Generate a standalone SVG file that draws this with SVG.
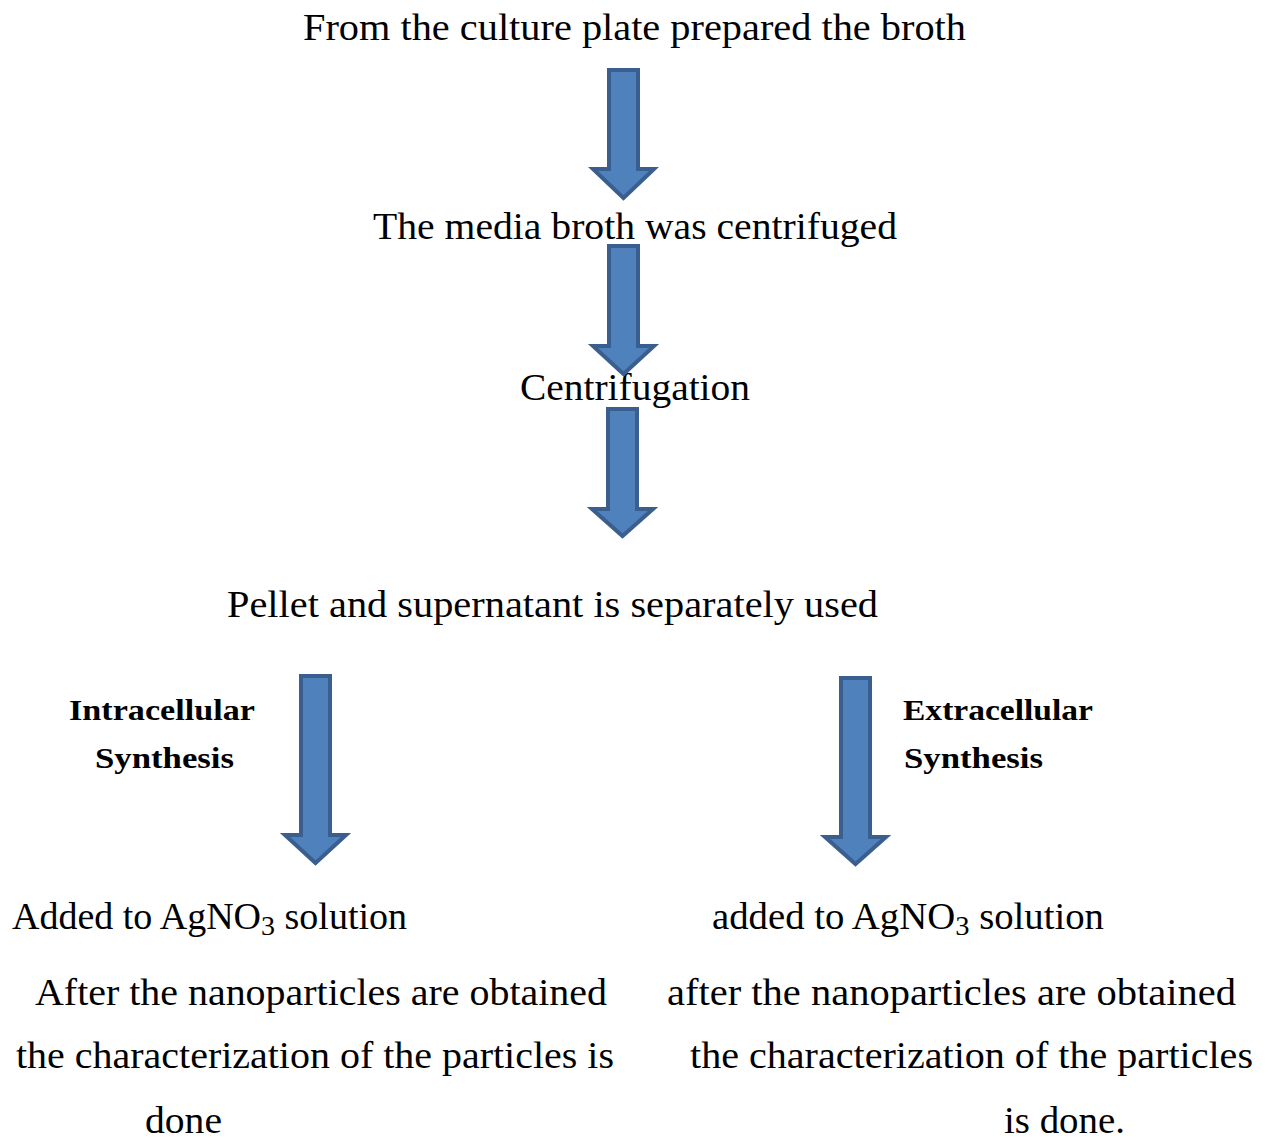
<svg xmlns="http://www.w3.org/2000/svg" width="1265" height="1140" viewBox="0 0 1265 1140">
<style>
.t{font-family:"Liberation Serif","DejaVu Serif",serif;font-size:38px;fill:#000}
.b{font-family:"Liberation Serif","DejaVu Serif",serif;font-size:30px;font-weight:bold;fill:#000}
.arr{fill:#4F81BD;stroke:#3A5F8F;stroke-width:4;stroke-linejoin:miter}
</style>
<rect width="1265" height="1140" fill="#fff"/>
<g id="n1"><text class="t" x="303" y="40" textLength="663" lengthAdjust="spacingAndGlyphs">From the culture plate prepared the broth</text></g>
<g id="n2"><text class="t" x="373" y="239" textLength="524" lengthAdjust="spacingAndGlyphs">The media broth was centrifuged</text></g>
<g id="n3"><text class="t" x="520" y="400" textLength="230" lengthAdjust="spacingAndGlyphs">Centrifugation</text></g>
<g id="n4"><text class="t" x="227" y="617" textLength="651" lengthAdjust="spacingAndGlyphs">Pellet and supernatant is separately used</text></g>
<g id="n5"><text class="b" x="69" y="720" textLength="186" lengthAdjust="spacingAndGlyphs">Intracellular</text><text class="b" x="95" y="768" textLength="139" lengthAdjust="spacingAndGlyphs">Synthesis</text></g>
<g id="n6"><text class="b" x="903" y="720" textLength="190" lengthAdjust="spacingAndGlyphs">Extracellular</text><text class="b" x="904" y="768" textLength="139" lengthAdjust="spacingAndGlyphs">Synthesis</text></g>
<g id="n7">
<text class="t" x="12" y="929" textLength="395" lengthAdjust="spacingAndGlyphs">Added to AgNO<tspan font-size="28" dy="6">3</tspan><tspan dy="-6"> solution</tspan></text>
<text class="t" x="35" y="1005" textLength="572" lengthAdjust="spacingAndGlyphs">After the nanoparticles are obtained</text>
<text class="t" x="16" y="1068" textLength="598" lengthAdjust="spacingAndGlyphs">the characterization of the particles is</text>
<text class="t" x="145" y="1133" textLength="77" lengthAdjust="spacingAndGlyphs">done</text>
</g>
<g id="n8">
<text class="t" x="712" y="929" textLength="392" lengthAdjust="spacingAndGlyphs">added to AgNO<tspan font-size="28" dy="6">3</tspan><tspan dy="-6"> solution</tspan></text>
<text class="t" x="667" y="1005" textLength="569" lengthAdjust="spacingAndGlyphs">after the nanoparticles are obtained</text>
<text class="t" x="690" y="1068" textLength="563" lengthAdjust="spacingAndGlyphs">the characterization of the particles</text>
<text class="t" x="1004" y="1133" textLength="121" lengthAdjust="spacingAndGlyphs">is done.</text>
</g>
<g id="connectors">
<path class="arr" d="M609,70 H638 V169 H654 L623.5,198 L593,169 H609 Z"/>
<path class="arr" d="M609,246 H638 V346 H654 L623.5,374 L593,346 H609 Z"/>
<path class="arr" d="M608,409 H637 V509 H653 L622.5,536 L592,509 H608 Z"/>
<path class="arr" d="M301,676 H330 V835 H346 L315.5,863 L285,835 H301 Z"/>
<path class="arr" d="M841,678 H870 V837 H886 L855.5,864 L825,837 H841 Z"/>
</g>
</svg>
